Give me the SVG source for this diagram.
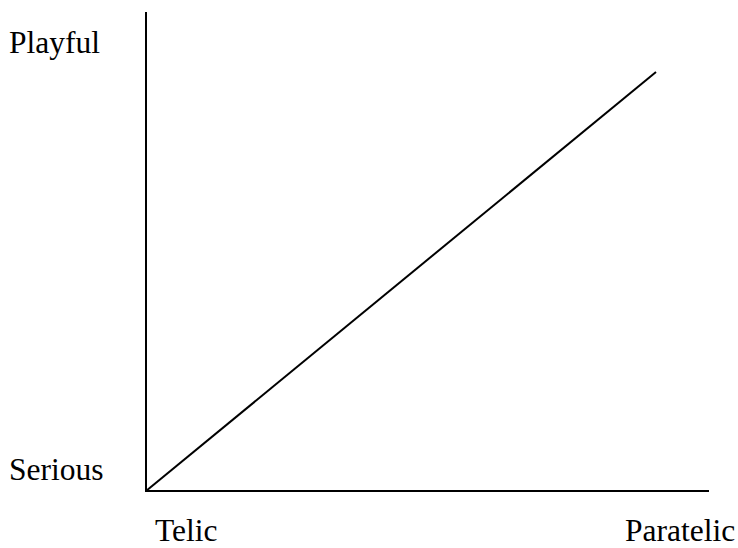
<svg xmlns="http://www.w3.org/2000/svg" width="738" height="548" viewBox="0 0 738 548">
<style>
.lbl{font-family:"Liberation Serif","Times New Roman",serif;font-size:31.5px;fill:#000}
.ax{stroke:#000;stroke-width:2;fill:none}
</style>
<rect width="738" height="548" fill="#fff"/>
<g id="connectors">
<line class="ax" x1="146" y1="12" x2="146" y2="491"/>
<line class="ax" x1="145" y1="491" x2="709" y2="491"/>
<line class="ax" x1="146" y1="491" x2="656" y2="72"/>
</g>
<g id="playful"><text class="lbl" x="9" y="53">Playful</text></g>
<g id="serious"><text class="lbl" x="9" y="480">Serious</text></g>
<g id="telic"><text class="lbl" x="155" y="541">Telic</text></g>
<g id="paratelic"><text class="lbl" x="625" y="541">Paratelic</text></g>
</svg>
